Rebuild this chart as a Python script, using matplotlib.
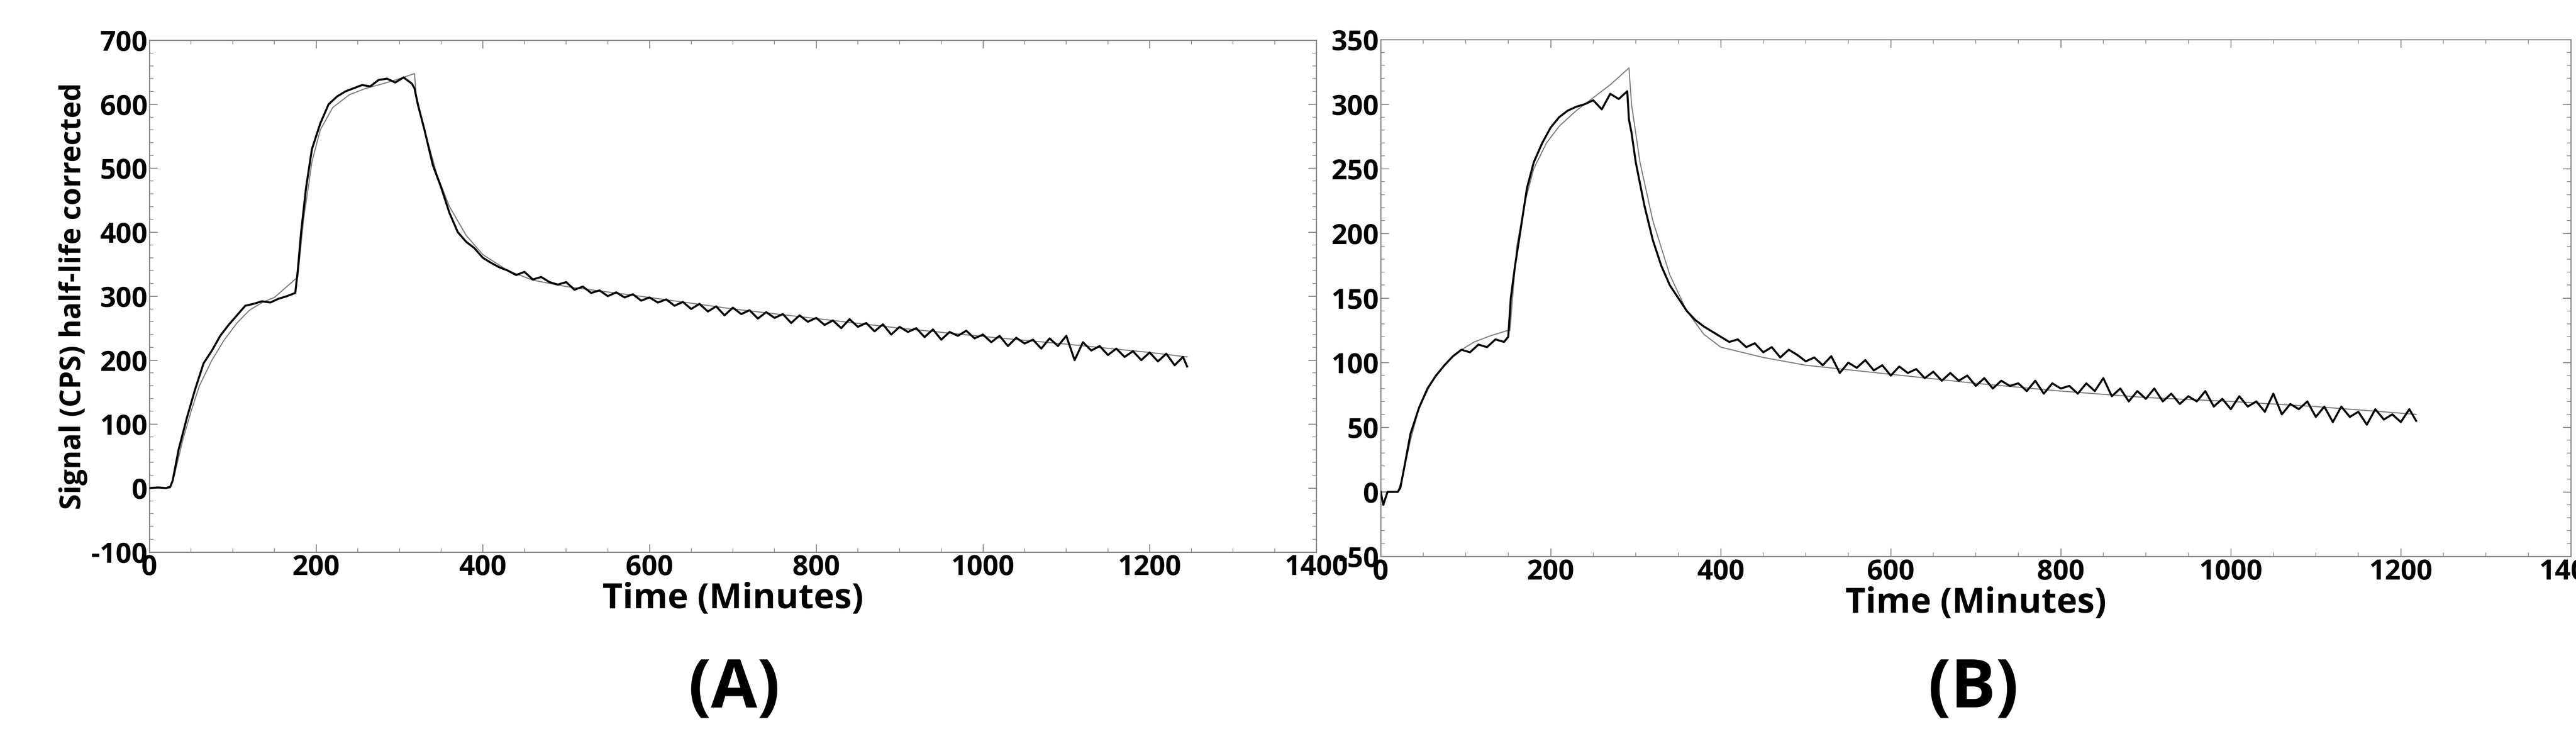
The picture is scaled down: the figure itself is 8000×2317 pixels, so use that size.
import matplotlib
matplotlib.use("Agg")
import matplotlib.pyplot as plt
from matplotlib.ticker import MultipleLocator

plt.rcParams['axes.unicode_minus'] = False
FAM = ['Liberation Sans Narrow', 'Open Sans', 'DejaVu Sans']

# ---- Panel A measured signal ----
a_t = [0,10,20,25,28,35,45,55,65,75,85,95,105,115,125,135,145,155,165,175,
       178,182,188,195,205,215,225,235,245,255,265,275,285,295,305,315,318,
       322,330,340,350,360,370,380,390,400]
a_y = [0,1,0,2,12,60,110,155,195,215,238,255,270,285,288,292,290,296,300,305,
       340,400,470,530,570,600,612,620,625,630,628,638,640,634,642,632,625,
       600,560,505,470,430,400,385,375,360]
a_t2 = list(range(410, 1250, 10)) + [1245]
a_y2 = [352,345,340,333,338,326,330,322,318,322,310,315,305,309,300,306,298,303,293,298,
        290,295,285,291,280,288,276,284,270,282,272,278,265,275,266,272,258,270,260,266,
        255,262,250,264,252,258,245,256,240,252,244,250,236,248,232,244,238,246,234,240,
        228,238,222,235,226,232,218,234,222,238,200,228,215,222,208,218,205,214,200,212,
        198,210,192,205,190]
# ---- Panel A fit ----
af_t = [0,25,30,40,50,60,75,90,105,120,135,150,178,185,195,205,220,240,260,280,300,318,
        320,330,345,360,380,400,430,460,500,600,700,800,900,1000,1100,1200,1245]
af_y = [0,0,20,75,120,160,200,232,258,278,290,298,330,420,510,560,595,615,625,632,640,648,
        615,560,490,440,395,365,340,325,315,298,280,265,250,237,225,212,205]

# ---- Panel B measured signal ----
b_t = [0,3,8,15,20,23,28,35,45,55,65,75,85,95,105,115,125,135,145,150,
       153,158,165,172,180,190,200,210,220,230,240,250,260,270,280,290,292,
       295,300,310,320,330,340,350,360,370,380,390,400]
b_t2 = list(range(410, 1220, 10)) + [1218]
b_y = [0,-10,0,0,0,3,20,45,65,80,90,98,105,110,108,114,112,118,116,120,
       150,175,205,235,255,270,282,290,295,298,300,303,296,308,304,310,288,
       278,255,222,195,175,160,150,140,133,128,124,120]
b_y2 = [116,118,112,115,108,112,104,110,106,101,104,98,105,92,100,96,102,94,98,90,
        97,92,95,88,93,86,92,86,90,82,88,80,86,82,84,78,86,76,84,80,
        82,76,84,78,88,74,80,70,78,72,80,70,76,68,74,70,78,66,72,64,
        74,66,70,62,76,60,68,64,70,58,66,54,66,58,62,52,64,56,60,54,
        64,55]
# ---- Panel B fit ----
bf_t = [0,20,25,35,45,60,75,90,110,130,150,152,160,170,180,195,210,230,250,270,292,
        295,305,320,340,360,380,400,450,500,600,700,800,900,1000,1100,1218]
bf_y = [0,0,10,40,65,85,98,108,116,121,125,125,190,225,250,270,283,295,305,315,328,
        300,255,210,168,140,122,112,104,98,91,84,78,73,70,66,60]

panels = [
    dict(t=a_t + a_t2, y=a_y + a_y2, ft=af_t, fy=af_y, ylim=(-100, 700), ymaj=100, ymin=20,
         rect=[0.058, 0.26, 0.453, 0.686], label='(A)', lx=0.285, ylabel=True),
    dict(t=b_t + b_t2, y=b_y + b_y2, ft=bf_t, fy=bf_y, ylim=(-50, 350), ymaj=50, ymin=10,
         rect=[0.536, 0.254, 0.462, 0.693], label='(B)', lx=0.766, ylabel=False),
]

fig = plt.figure(figsize=(80, 23.17), dpi=100)
for p in panels:
    ax = fig.add_axes(p['rect'])
    ax.plot(p['ft'], p['fy'], color='#808080', lw=2.5, zorder=2)
    ax.plot(p['t'], p['y'], color='black', lw=4.5, zorder=3)
    ax.set_xlim(0, 1400)
    ax.set_ylim(*p['ylim'])
    ax.xaxis.set_major_locator(MultipleLocator(200))
    ax.xaxis.set_minor_locator(MultipleLocator(50))
    ax.yaxis.set_major_locator(MultipleLocator(p['ymaj']))
    ax.yaxis.set_minor_locator(MultipleLocator(p['ymin']))
    ax.tick_params(which='both', direction='in', top=True, right=True, color='#808080')
    ax.tick_params(which='major', length=18, width=2, labelsize=62, pad=4)
    ax.tick_params(which='minor', length=9, width=1.5)
    for lab in ax.get_xticklabels() + ax.get_yticklabels():
        lab.set_family(FAM)
        lab.set_fontweight('bold')
    for s in ax.spines.values():
        s.set_color('#808080')
        s.set_linewidth(2.5)
    ax.set_xlabel('Time (Minutes)', fontsize=78, fontweight='bold', family=FAM, labelpad=0)
    if p['ylabel']:
        ax.set_ylabel('Signal (CPS) half-life corrected', fontsize=64, fontweight='bold',
                      family=['Open Sans', 'DejaVu Sans'], labelpad=8)
    fig.text(p['lx'], 0.075, p['label'], fontsize=150, fontweight='bold',
             family=['Open Sans', 'DejaVu Sans'], ha='center', va='center')

fig.savefig('out.png', dpi=100, facecolor='white')
